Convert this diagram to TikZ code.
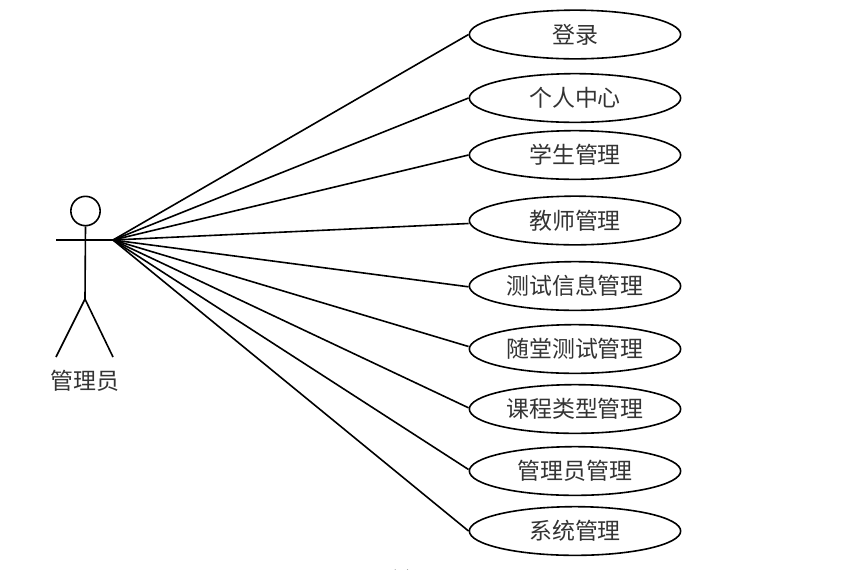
\documentclass[tikz,border=0pt]{standalone}
\usepackage{fontspec}
\setmainfont{Noto Sans CJK SC}
\usetikzlibrary{shapes.geometric,calc}
\tikzset{
  usecase/.style={ellipse,draw=black,line width=1.2pt,minimum width=158.5pt,minimum height=36.5pt,inner sep=0pt,font=\fontsize{17.2pt}{20pt}\selectfont,text=black!80},
  link/.style={draw=black,line width=1.2pt},
  actorline/.style={draw=black,line width=1.2pt},
  actorlabel/.style={font=\fontsize{17.2pt}{20pt}\selectfont,text=black!80,inner sep=0pt}
}
\begin{document}
\begin{tikzpicture}[x=0.75pt,y=-0.75pt]
\useasboundingbox (0,0) rectangle (841,569);
\node[usecase] (u1) at (575,34.5) {登录};
\node[usecase] (u2) at (575,98) {个人中心};
\node[usecase] (u3) at (575,155) {学生管理};
\node[usecase] (u4) at (575,220.5) {教师管理};
\node[usecase] (u5) at (575,286) {测试信息管理};
\node[usecase] (u6) at (575,349) {随堂测试管理};
\node[usecase] (u7) at (575,409) {课程类型管理};
\node[usecase] (u8) at (575,471) {管理员管理};
\node[usecase] (u9) at (575,531) {系统管理};
\node[circle,actorline,minimum size=22pt,inner sep=0pt] (head) at (85.5,211) {};
\coordinate (armL) at (56,240);
\coordinate (hub) at (113,240);
\coordinate (hip) at (85,299);
\coordinate (footL) at (56,357);
\coordinate (footR) at (113,357);
\draw[actorline] (head.south) -- (hip);
\draw[actorline] (armL) -- (hub);
\draw[actorline] (footL) -- (hip) -- (footR);
\node[actorlabel] (actor) at (85,381) {管理员};
\draw[link] (hub) -- (u1.west);
\draw[link] (hub) -- (u2.west);
\draw[link] (hub) -- (u3.west);
\draw[link] (hub) -- ($(u4.west)+(0,3)$);
\draw[link] (hub) -- ($(u5.west)+(0,0.8)$);
\draw[link] (hub) -- ($(u6.west)+(0,-2.5)$);
\draw[link] (hub) -- ($(u7.west)+(0,-1.2)$);
\draw[link] (hub) -- ($(u8.west)+(0,-1.5)$);
\draw[link] (hub) -- (u9.west);
\draw[black!55,line width=0.75pt] (395,569.5) arc (180:0:6.3);
\end{tikzpicture}
\end{document}
